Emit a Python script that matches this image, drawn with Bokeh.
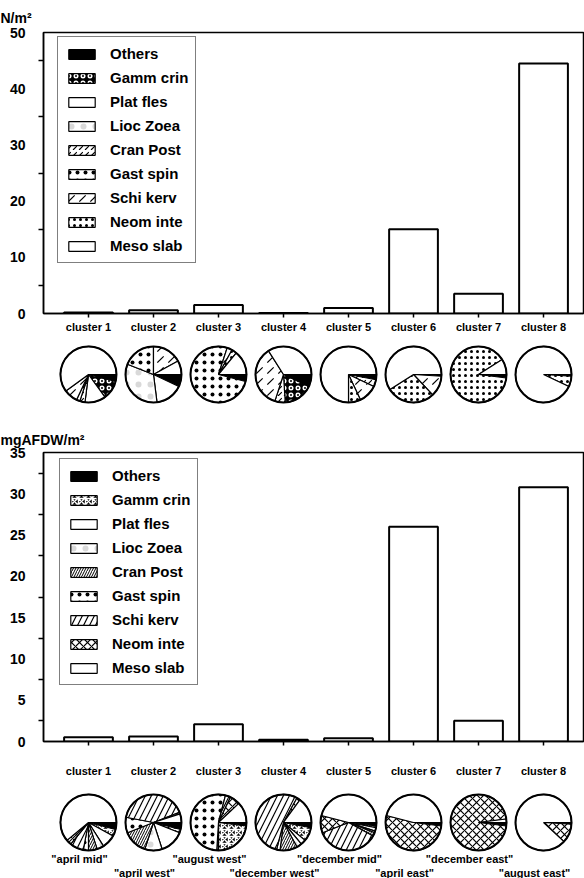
import numpy as np
from bokeh.plotting import figure
from bokeh.models import Range1d, FixedTicker, Legend, LegendItem, ColumnDataSource, Title
from bokeh.layouts import column
from bokeh.core.properties import value
from bokeh.embed import file_html
from bokeh.resources import INLINE

# ---- data -------------------------------------------------------------
clusters = ["cluster 1", "cluster 2", "cluster 3", "cluster 4",
            "cluster 5", "cluster 6", "cluster 7", "cluster 8"]
stations = ['"april mid"', '"april west"', '"august west"', '"december west"',
            '"december mid"', '"april east"', '"december east"', '"august east"']
taxa = ["Others", "Gamm crin", "Plat fles", "Lioc Zoea", "Cran Post",
        "Gast spin", "Schi kerv", "Neom inte", "Meso slab"]

# total density (N/m2) and biomass (mgAFDW/m2) per cluster
density = [0.2, 0.6, 1.5, 0.1, 1.0, 15.0, 3.5, 44.5]
biomass = [0.5, 0.6, 2.1, 0.2, 0.4, 26.0, 2.5, 30.8]

# share (%) of each taxon per cluster, in the order of `taxa`
density_share = [
    [4, 11, 12, 0, 3, 2, 8, 0, 60],
    [7, 0, 16, 33, 0, 19, 17, 0, 8],
    [4, 0, 0, 0, 0, 76, 3, 3, 14],
    [7, 17, 0, 0, 6, 0, 36, 0, 34],
    [3, 0, 0, 0, 4, 0, 11, 7, 75],
    [1, 0, 0, 0, 0, 0, 12, 28, 59],
    [2, 0, 0, 0, 0, 0, 0, 89, 9],
    [1, 0, 0, 0, 0, 0, 0, 6, 93],
]
biomass_share = [
    [4, 4, 8, 4, 5, 3, 8, 3, 61],
    [4, 2, 14, 10, 14, 9, 41, 1, 5],
    [2, 23, 0, 0, 1, 53, 3, 6, 12],
    [3, 8, 3, 3, 10, 2, 54, 2, 15],
    [2, 1, 2, 1, 2, 0, 36, 10, 46],
    [2, 0, 0, 0, 0, 0, 0, 52, 46],
    [2, 0, 0, 0, 0, 0, 0, 96, 2],
    [1, 0, 0, 0, 0, 0, 0, 11, 88],
]

# ---- styling ------------------------------------------------------------
FONT = "Liberation Sans"
W = 584
LEFT, RIGHT = 43, 1
X_RANGE = (0.308, 8.615)
PIE_R = 28


def hatch(pattern, scale, weight=1.0, fill="white", color="black", alpha=1.0):
    return dict(fill_color=fill, hatch_pattern=pattern, hatch_color=color,
                hatch_scale=scale, hatch_weight=weight, hatch_alpha=alpha)


density_styles = [
    dict(fill_color="black"),                                   # Others
    hatch("ring", 7, 1.5, fill="black", color="white"),        # Gamm crin
    dict(fill_color="white"),                                   # Plat fles
    hatch("dot", 12, 0.1, alpha=0.15),                          # Lioc Zoea
    hatch("right_diagonal_dash", 6, 1.2),                       # Cran Post
    hatch("dot", 8, 0.1),                                       # Gast spin
    hatch("right_diagonal_dash", 11, 1.2),                      # Schi kerv
    hatch("dot", 6, 0.5),                                       # Neom inte
    dict(fill_color="white"),                                   # Meso slab
]
biomass_styles = [
    dict(fill_color="black"),
    hatch("criss_cross", 7, 1.5, fill="black", color="white"),
    dict(fill_color="white"),
    hatch("dot", 12, 0.1, alpha=0.15),
    hatch("right_diagonal_line", 5, 1.0),
    hatch("dot", 8, 0.1),
    hatch("right_diagonal_line", 12, 1.2),
    hatch("diagonal_cross", 8, 1.2),
    dict(fill_color="white"),
]

xs = list(range(1, len(clusters) + 1))


def bar_panel(values, unit, y_max, step, height, top, bottom, legend_xy, styles,
              label_standoff, title_standoff):
    p = figure(width=W, height=height, x_range=Range1d(*X_RANGE), y_range=Range1d(0, y_max),
               output_backend="svg", toolbar_location=None,
               min_border_left=LEFT, min_border_right=RIGHT,
               min_border_top=top, min_border_bottom=bottom)
    p.grid.visible = False
    p.outline_line_color = "black"
    p.outline_line_width = 1.5
    p.background_fill_color = "white"
    p.border_fill_color = "white"

    p.vbar(x=xs, top=values, bottom=0, width=0.75,
           fill_color="white", line_color="black", line_width=2)

    ya = p.yaxis[0]
    ya.ticker = FixedTicker(ticks=list(np.arange(0, y_max + 0.1, step)),
                            minor_ticks=list(np.arange(step / 2, y_max, step)))
    ya.major_tick_out = 0
    ya.major_tick_in = 0
    ya.minor_tick_out = 5
    ya.minor_tick_in = 0
    ya.axis_line_width = 1.5
    ya.minor_tick_line_width = 1.5
    ya.major_label_text_font = FONT
    ya.major_label_text_font_size = "14px"
    ya.major_label_text_font_style = "bold"
    ya.major_label_text_color = "black"
    ya.major_label_standoff = 13

    xa = p.xaxis[0]
    xa.ticker = FixedTicker(ticks=xs)
    xa.major_label_overrides = {x: c for x, c in zip(xs, clusters)}
    xa.major_tick_out = 4
    xa.major_tick_in = 0
    xa.major_tick_line_width = 1.5
    xa.axis_line_width = 1.5
    xa.major_label_text_font = FONT
    xa.major_label_text_font_size = "11px"
    xa.major_label_text_font_style = "bold"
    xa.major_label_text_color = "black"
    xa.major_label_standoff = label_standoff

    # unit of the y values, flush with the page's left edge
    p.add_layout(Title(text=unit, align="left", offset=-LEFT, standoff=title_standoff,
                       text_font=FONT, text_font_size="14px", text_font_style="bold",
                       text_color="black"), "above")

    # key swatches: one off-screen glyph per taxon, styled like its pie slices
    items = []
    for name, st in zip(taxa, styles):
        r = p.wedge(x=[X_RANGE[0] - 10], y=[-1000], radius=0.01, start_angle=0, end_angle=1,
                    line_color="black", line_width=1.2, **st)
        items.append(LegendItem(label=name, renderers=[r]))
    legend = Legend(items=items, location=legend_xy, orientation="vertical",
                    glyph_width=33, glyph_height=12, label_standoff=12,
                    label_height=19, spacing=5, padding=7,
                    label_text_font=FONT, label_text_font_size="15px",
                    label_text_font_style="bold", label_text_color="black",
                    border_line_color="black", border_line_width=1.5,
                    background_fill_color="white", background_fill_alpha=1)
    p.add_layout(legend)
    return p


def pie_panel(shares, styles, height, center_from_top, labels=None):
    q = figure(width=W, height=height, x_range=Range1d(*X_RANGE),
               y_range=Range1d(-(height - center_from_top), center_from_top),
               output_backend="svg", toolbar_location=None,
               x_axis_location=None, y_axis_location=None,
               min_border_left=LEFT, min_border_right=RIGHT, min_border_top=0, min_border_bottom=0)
    q.grid.visible = False
    q.outline_line_color = None
    q.background_fill_color = "white"
    q.border_fill_color = "white"

    arr = np.array(shares, dtype=float)
    frac = arr / arr.sum(axis=1, keepdims=True)
    cum = np.cumsum(frac, axis=1)
    start = cum - frac
    # slices run clockwise from three o'clock, in the order of `taxa`
    for k, st in enumerate(styles):
        keep = frac[:, k] > 0
        src = ColumnDataSource(dict(
            x=[x for x, m in zip(xs, keep) if m],
            y=[0.0] * int(keep.sum()),
            a0=list(-2 * np.pi * cum[keep, k]),
            a1=list(-2 * np.pi * start[keep, k]),
        ))
        q.wedge(x="x", y="y", radius=PIE_R, radius_units="screen",
                start_angle="a0", end_angle="a1", source=src,
                line_color="black", line_width=1.2, **st)
    q.circle(x=xs, y=[0.0] * len(xs), radius=PIE_R, radius_units="screen",
             fill_color=None, line_color="black", line_width=2)

    if labels is not None:
        ly = [-(center_from_top + 4) if i % 2 == 0 else -(center_from_top + 18) for i in range(len(labels))]
        q.text(x=xs, y=ly, text=labels, text_align="center", text_baseline="middle",
               x_offset=-9, text_font=value(FONT), text_font_size="11px",
               text_font_style="bold", text_color="black")
    return q


top_bars = bar_panel(density, "N/m²", 50, 10, 342, 32, 29, (14, 50), density_styles, 3, 14)
top_pies = pie_panel(density_share, density_styles, 70, 32)
bottom_bars = bar_panel(biomass, "mgAFDW/m²", 35, 5, 378, 40, 49, (16, 56), biomass_styles, 19, 10)
bottom_pies = pie_panel(biomass_share, biomass_styles, 88, 32, stations)

layout = column(top_bars, top_pies, bottom_bars, bottom_pies, spacing=0)

with open("out.html", "w") as f:
    f.write(file_html(layout, INLINE))
